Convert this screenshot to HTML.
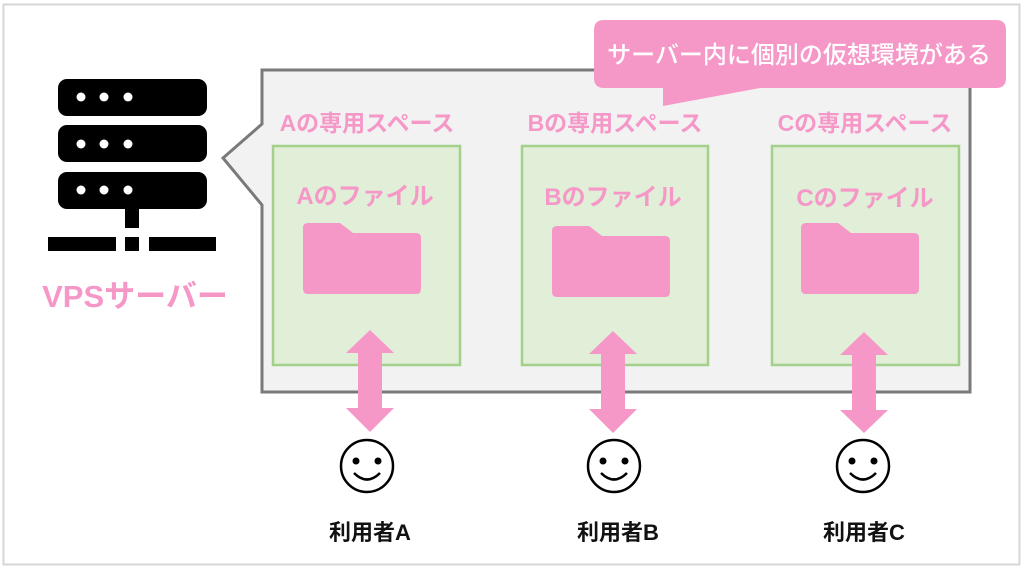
<!DOCTYPE html>
<html><head><meta charset="utf-8"><style>
html,body{margin:0;padding:0;background:#fff;}
svg{display:block;}
text{font-family:"Liberation Sans","Noto Sans CJK JP",sans-serif;font-weight:bold;}
</style></head><body>
<svg width="1024" height="569" viewBox="0 0 1024 569" xmlns="http://www.w3.org/2000/svg">
<rect x="3.5" y="4.5" width="1016" height="560" fill="#fff" stroke="#d6d6d6" stroke-width="2"/>
<g fill="#000">
<rect x="58" y="79" width="149" height="37" rx="9"/>
<rect x="58" y="125" width="149" height="37" rx="9"/>
<rect x="58" y="172" width="149" height="37" rx="9"/>
<rect x="125" y="208" width="14" height="20"/>
<rect x="48" y="237" width="68" height="14"/>
<rect x="125" y="237" width="14" height="14"/>
<rect x="149" y="237" width="67" height="14"/>
</g>
<g fill="#fff">
<circle cx="81" cy="97" r="4.5"/><circle cx="104" cy="97" r="4.5"/><circle cx="128" cy="97" r="4.5"/>
<circle cx="81" cy="144" r="4.5"/><circle cx="104" cy="144" r="4.5"/><circle cx="128" cy="144" r="4.5"/>
<circle cx="81" cy="190" r="4.5"/><circle cx="104" cy="190" r="4.5"/><circle cx="128" cy="190" r="4.5"/>
</g>
<text x="135" y="307" font-size="31" fill="#f598c8" text-anchor="middle">VPSサーバー</text>
<path d="M262,70 H970 V392 H262 V205 L223,158 L262,124 Z" fill="#f2f2f2" stroke="#7a7a7a" stroke-width="3"/>
<path d="M604,20 H996 Q1006,20 1006,30 V78 Q1006,88 996,88 H760 L663,106 L663,88 H604 Q594,88 594,78 V30 Q594,20 604,20 Z" fill="#f598c8"/>
<text x="799" y="63" font-size="24" fill="#fff" text-anchor="middle" style="font-weight:500">サーバー内に個別の仮想環境がある</text>
<g font-size="23" fill="#f598c8" text-anchor="middle">
<text x="367" y="131">Aの専用スペース</text>
<text x="615" y="131">Bの専用スペース</text>
<text x="865" y="131">Cの専用スペース</text>
</g>
<g fill="#e1eed8" stroke="#a3d08a" stroke-width="2.5">
<rect x="273" y="146" width="187" height="219"/>
<rect x="522" y="146" width="186" height="219"/>
<rect x="772" y="146" width="187" height="219"/>
</g>
<g font-size="24" fill="#f598c8" text-anchor="middle">
<text x="365" y="204">Aのファイル</text>
<text x="613" y="205">Bのファイル</text>
<text x="865" y="206">Cのファイル</text>
</g>
<g fill="#f598c8">
<path d="M303,228 Q303,223 308,223 H340 L353,233 H416 Q421,233 421,238 V289 Q421,294 416,294 H308 Q303,294 303,289 Z"/>
<path d="M552,231 Q552,226 557,226 H589 L602,236 H665 Q670,236 670,241 V292 Q670,297 665,297 H557 Q552,297 552,292 Z"/>
<path d="M801,228 Q801,223 806,223 H838 L851,233 H914 Q919,233 919,238 V289 Q919,294 914,294 H806 Q801,294 801,289 Z"/>
</g>
<g fill="#f598c8">
<path d="M370,330 L394,353 H382 V408 H394 L370,432 L346,408 H358 V353 H346 Z"/>
<path d="M613,331 L637,354 H625 V409 H637 L613,433 L589,409 H601 V354 H589 Z"/>
<path d="M864,332 L888,355 H876 V410 H888 L864,433 L840,410 H852 V355 H840 Z"/>
</g>
<g fill="none" stroke="#000" stroke-width="2.5">
<circle cx="367" cy="466" r="26"/>
<circle cx="614" cy="466" r="26"/>
<circle cx="863" cy="466" r="26"/>
<path d="M354,473 Q367,486 380,473"/>
<path d="M601,473 Q614,486 627,473"/>
<path d="M850,473 Q863,486 876,473"/>
</g>
<g fill="#000">
<circle cx="356" cy="461" r="3.5"/><circle cx="378" cy="461" r="3.5"/>
<circle cx="603" cy="461" r="3.5"/><circle cx="625" cy="461" r="3.5"/>
<circle cx="852" cy="461" r="3.5"/><circle cx="874" cy="461" r="3.5"/>
</g>
<g font-size="22" fill="#111" text-anchor="middle">
<text x="370" y="540">利用者A</text>
<text x="618" y="540">利用者B</text>
<text x="864" y="540">利用者C</text>
</g>
</svg>
</body></html>
